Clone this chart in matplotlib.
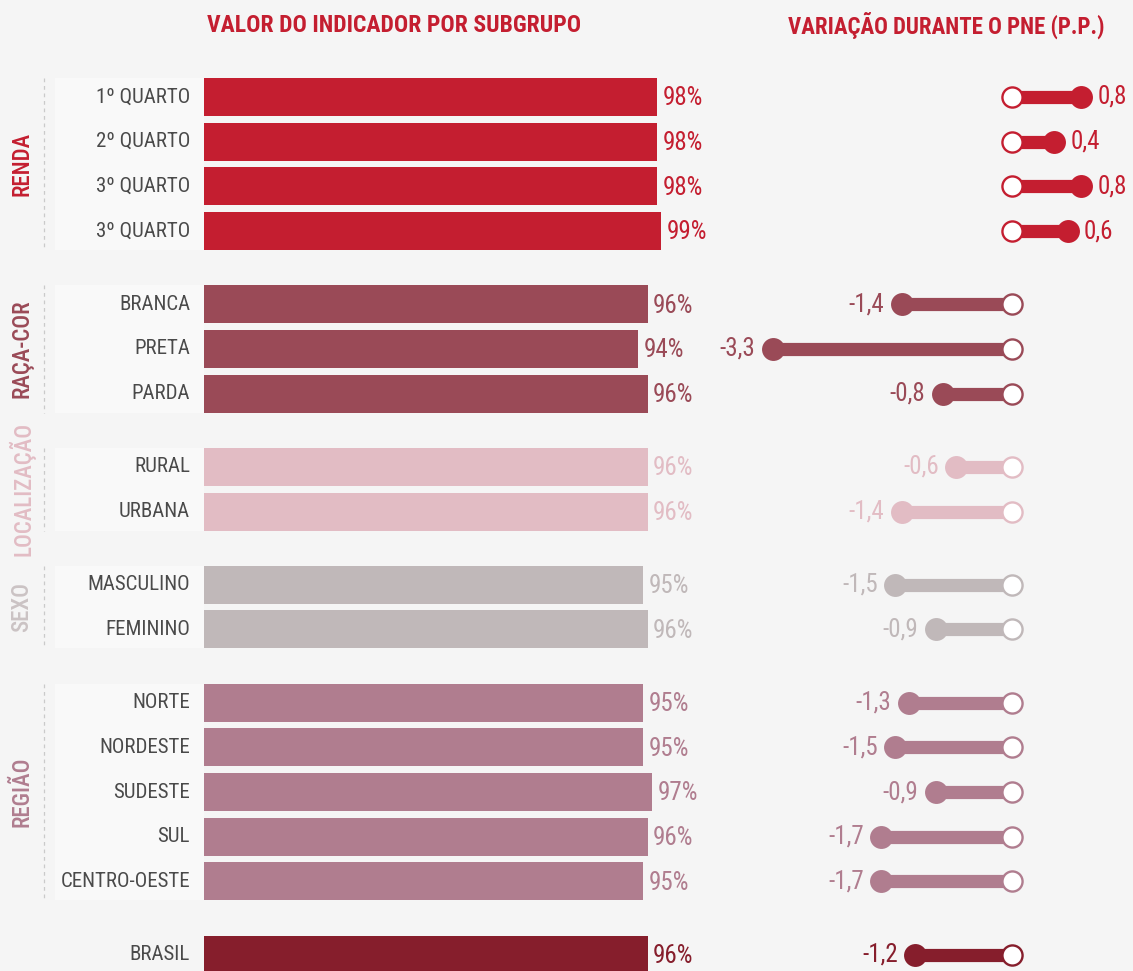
import numpy as np
import matplotlib
matplotlib.use("Agg")
import matplotlib.pyplot as plt
import matplotlib.transforms as mtransforms
from matplotlib import font_manager
from matplotlib.patches import Rectangle

# fonte estreita, se houver
available = {f.name for f in font_manager.fontManager.ttflist}
FONT = next((f for f in ["Roboto Condensed", "Liberation Sans Narrow", "DejaVu Sans"]
             if f in available), "DejaVu Sans")
plt.rcParams["font.family"] = [FONT, "DejaVu Sans"]

# dados
groups = ["RENDA", "RAÇA-COR", "LOCALIZAÇÃO", "SEXO", "REGIÃO", ""]
group_sizes = [4, 3, 2, 2, 5, 1]
group_colors = ["#c41e30", "#9a4a57", "#e2bcc4", "#c0b8b9", "#b07d8f", "#861e2c"]
group_label_colors = ["#c41e30", "#9a4a57", "#e2bcc4", "#cbc3c4", "#b07d8f", "#861e2c"]
labels = ["1º QUARTO", "2º QUARTO", "3º QUARTO", "3º QUARTO",
          "BRANCA", "PRETA", "PARDA",
          "RURAL", "URBANA",
          "MASCULINO", "FEMININO",
          "NORTE", "NORDESTE", "SUDESTE", "SUL", "CENTRO-OESTE",
          "BRASIL"]
values = [98, 98, 98, 99, 96, 94, 96, 96, 96, 95, 96, 95, 95, 97, 96, 95, 96]
variation = [0.8, 0.4, 0.8, 0.6, -1.4, -3.3, -0.8, -0.6, -1.4,
             -1.5, -0.9, -1.3, -1.5, -0.9, -1.7, -1.7, -1.2]

W, H = 1133, 971
BG = "#f5f5f5"
TEXT = "#4a4a4a"
RED = "#c41e30"

# layout (pixels)
ROW_PX = 44.67
TOP_ROW_PX = 97
GAP = 0.64
BAR_H = 0.85
ZERO_PX = 1012
PX_PER_PP = 68.0
OFFSET = 15 / PX_PER_PP  # comprimento mínimo visível do haltere

ypos, colors, gid = [], [], []
for g, n in enumerate(group_sizes):
    for i in range(n):
        ypos.append(len(ypos) + g * GAP)
        colors.append(group_colors[g])
        gid.append(g)

y_top = -TOP_ROW_PX / ROW_PX
y_bot = (H - TOP_ROW_PX) / ROW_PX

fig = plt.figure(figsize=(W / 100, H / 100), dpi=100, facecolor=BG)

# barras
ax = fig.add_axes([204 / W, 0, 462 / W, 1])
ax.set_facecolor("none")
ax.set_xlim(0, 100)
ax.set_ylim(y_bot, y_top)
ax.axis("off")

blend = mtransforms.blended_transform_factory(fig.transFigure, ax.transData)

# painel claro atrás dos rótulos
start = 0
for g, n in enumerate(group_sizes):
    y0 = ypos[start] - BAR_H / 2
    y1 = ypos[start + n - 1] + BAR_H / 2
    if groups[g]:
        ax.add_patch(Rectangle((55 / W, y0), (204 - 55) / W, y1 - y0, transform=blend,
                               facecolor="#f9f9f9", edgecolor="none", clip_on=False, zorder=0))
        ax.plot([44 / W, 44 / W], [y0, y1], transform=blend, color="#cacaca",
                lw=0.9, ls=(0, (3, 3)), clip_on=False)
        ax.text(22 / W, (y0 + y1) / 2, groups[g], transform=blend, rotation=90,
                ha="center", va="center", fontsize=16.5, color=group_label_colors[g],
                fontweight="medium")
    start += n

ax.barh(ypos, values, height=BAR_H, color=colors, zorder=2)
for y, v, lab, c in zip(ypos, values, labels, colors):
    ax.annotate(f"{v}%", xy=(v, y), xytext=(4, -1), textcoords="offset points",
                ha="left", va="center", fontsize=18, color=c, annotation_clip=False)
    ax.annotate(lab, xy=(0, y), xytext=(-10, 0), textcoords="offset points",
                ha="right", va="center", fontsize=15, color=TEXT, annotation_clip=False)


# haltere da variação
def fwd(v):
    v = np.asarray(v, dtype=float)
    return v + np.sign(v) * OFFSET


def inv(u):
    u = np.asarray(u, dtype=float)
    return np.where(np.abs(u) > OFFSET, u - np.sign(u) * OFFSET, 0.0)


dx = fig.add_axes([700 / W, 0, 433 / W, 1])
dx.set_facecolor("none")
dx.set_xscale("function", functions=(fwd, inv))
dx.set_xlim(float(inv((700 - ZERO_PX) / PX_PER_PP)), float(inv((W - ZERO_PX) / PX_PER_PP)))
dx.set_ylim(y_bot, y_top)
dx.axis("off")

for y, v, c in zip(ypos, variation, colors):
    dx.plot([0, v], [y, y], color=c, lw=9.5, solid_capstyle="butt", zorder=1, clip_on=False)
    dx.plot([v], [y], "o", ms=16.5, color=c, mew=0, zorder=2, clip_on=False)
    dx.plot([0], [y], "o", ms=14.5, mfc="white", mec=c, mew=1.7, zorder=3, clip_on=False)
    txt = f"{v:.1f}".replace(".", ",")
    dx.annotate(txt, xy=(v, y), xytext=(-12.5 if v < 0 else 11.5, 0), textcoords="offset points",
                ha="right" if v < 0 else "left", va="center", fontsize=18, color=c,
                annotation_clip=False)

# títulos
fig.text(394 / W, 1 - 25 / H, "VALOR DO INDICADOR POR SUBGRUPO", ha="center", va="center",
         fontsize=17, fontweight="bold", color=RED)
fig.text(946 / W, 1 - 25 / H, "VARIAÇÃO DURANTE O PNE (P.P.)", ha="center", va="center",
         fontsize=16.5, fontweight="bold", color=RED)

fig.savefig("out.png", dpi=100, facecolor=BG)
